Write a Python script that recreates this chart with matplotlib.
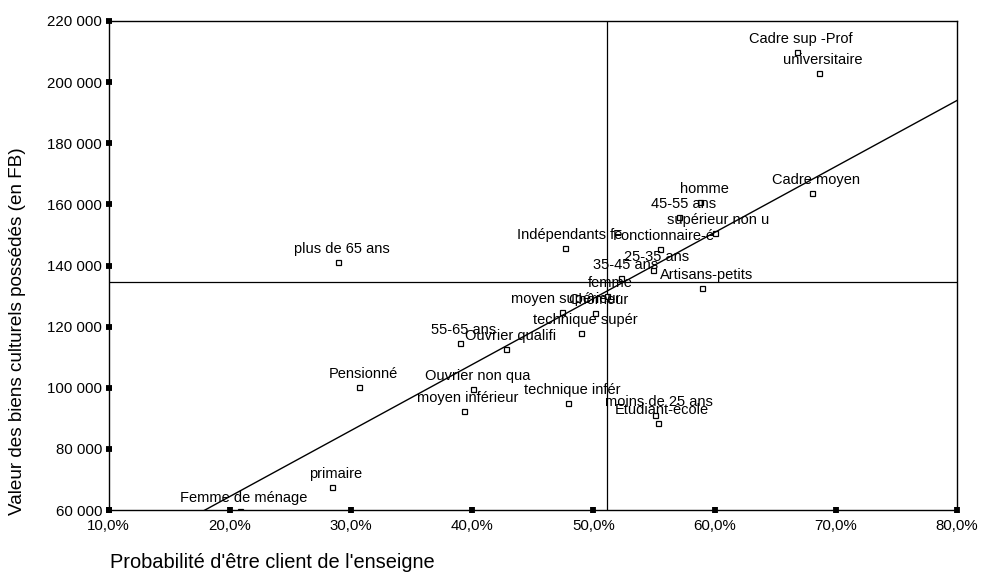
import numpy as np
import matplotlib.pyplot as plt
from matplotlib.ticker import FuncFormatter

plt.rcParams['font.family'] = ['Liberation Sans', 'DejaVu Sans']

# categories, probability of being a customer (%) and value of cultural goods (FB)
labels = ['Cadre sup -Prof', 'universitaire', 'Cadre moyen', 'homme', '45-55 ans',
          'supérieur non u', 'Fonctionnaire-é', 'Indépendants fe', 'plus de 65 ans',
          '25-35 ans', '35-45 ans', 'Artisans-petits', 'femme', 'moyen supérieur',
          'Chômeur', 'technique supér', '55-65 ans', 'Ouvrier qualifi', 'Pensionné',
          'Ouvrier non qua', 'technique infér', 'moyen inférieur', 'moins de 25 ans',
          'Etudiant-école', 'primaire', 'Femme de ménage']
proba = [66.8, 68.6, 68.0, 58.8, 57.1,
         60.0, 55.5, 47.7, 28.9,
         54.9, 52.3, 59.0, 51.1, 47.4,
         50.1, 49.0, 39.0, 42.8, 30.7,
         40.1, 47.9, 39.3, 55.1,
         55.3, 28.4, 20.85]
valeur = [209700, 203100, 163600, 160700, 155800,
          150500, 145300, 145600, 141000,
          138400, 135800, 132500, 129900, 124700,
          124400, 117800, 114600, 112600, 100200,
          99500, 95000, 92400, 91000,
          88400, 67500, 59600]

# fitted line and reference lines
fit_slope = 2160.0
fit_intercept = 21200.0
x_ref = 51.1
y_ref = 134500

x_ticks = [10, 20, 30, 40, 50, 60, 70, 80]
y_ticks = [60000, 80000, 100000, 120000, 140000, 160000, 180000, 200000, 220000]

fig = plt.figure(figsize=(9.81, 5.74), dpi=100)
ax = fig.add_axes([108.5 / 981, 1 - 510 / 574, (957 - 108.5) / 981, (510 - 21) / 574])

ax.set_xlim(10, 80)
ax.set_ylim(60000, 220000)

ax.axvline(x_ref, color='black', lw=0.9, zorder=2)
ax.axhline(y_ref, color='black', lw=0.9, zorder=2)

xs = np.array([10, 80])
ax.plot(xs, fit_intercept + fit_slope * xs, color='black', lw=1.0, zorder=3)

ax.plot(proba, valeur, 's', ms=3.6, mfc='white', mec='black', mew=0.9, zorder=2.2)

# point labels sit just above each marker
for lab, px, vy in zip(labels, proba, valeur):
    ax.annotate(lab, (px, vy), xytext=(4, 9), textcoords='offset pixels',
                ha='center', va='baseline', fontsize=10.5, zorder=5,
                annotation_clip=False)

for s in ax.spines.values():
    s.set_linewidth(1.0)

ax.set_xticks(x_ticks)
ax.set_yticks(y_ticks)
ax.xaxis.set_major_formatter(FuncFormatter(lambda v, p: f'{v:.1f}%'.replace('.', ',')))
ax.yaxis.set_major_formatter(FuncFormatter(lambda v, p: f'{v:,.0f}'.replace(',', ' ')))
ax.tick_params(direction='inout', length=4.2, width=4.2, labelsize=10.8, pad=2.5)
ax.tick_params(axis='x', pad=4.5)

fig.text(110 / 981, 1 - 568 / 574, "Probabilité d'être client de l'enseigne",
         fontsize=14.4, ha='left', va='baseline')
fig.text(18 / 981, 1 - 331 / 574, 'Valeur des biens culturels possédés (en FB)',
         fontsize=13.6, rotation=90, ha='center', va='center')

fig.savefig('out.png', dpi=100)
